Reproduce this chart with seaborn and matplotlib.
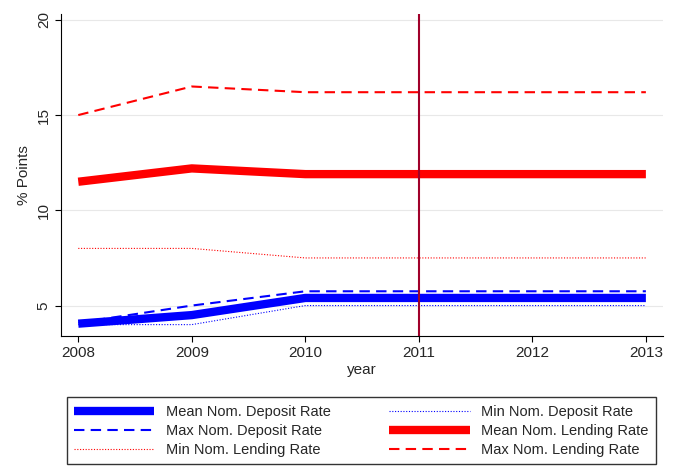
import pandas as pd
import matplotlib.pyplot as plt
import seaborn as sns

years = [2008, 2009, 2010, 2011, 2012, 2013]
mean_dep = [4.05, 4.5, 5.4, 5.4, 5.4, 5.4]
max_dep = [4.1, 5.0, 5.75, 5.75, 5.75, 5.75]
min_dep = [4.0, 4.0, 5.0, 5.0, 5.0, 5.0]
mean_lend = [11.5, 12.2, 11.9, 11.9, 11.9, 11.9]
max_lend = [15.0, 16.5, 16.2, 16.2, 16.2, 16.2]
min_lend = [8.0, 8.0, 7.5, 7.5, 7.5, 7.5]

series = {
    "Mean Nom. Deposit Rate": mean_dep,
    "Min Nom. Deposit Rate": min_dep,
    "Max Nom. Deposit Rate": max_dep,
    "Mean Nom. Lending Rate": mean_lend,
    "Min Nom. Lending Rate": min_lend,
    "Max Nom. Lending Rate": max_lend,
}
styles = {
    "Mean Nom. Deposit Rate": dict(color="#0000ff", lw=6, ls="-"),
    "Min Nom. Deposit Rate": dict(color="#0000ff", lw=0.8, ls=(0, (1, 1.5))),
    "Max Nom. Deposit Rate": dict(color="#0000ff", lw=1.5, ls=(0, (5, 3))),
    "Mean Nom. Lending Rate": dict(color="#ff0000", lw=6, ls="-"),
    "Min Nom. Lending Rate": dict(color="#ff0000", lw=0.8, ls=(0, (1, 1.5))),
    "Max Nom. Lending Rate": dict(color="#ff0000", lw=1.5, ls=(0, (5, 3))),
}

sns.set_style("white")
plt.rcParams["font.family"] = ["Liberation Sans", "DejaVu Sans"]

fig = plt.figure(figsize=(6.73, 4.70), dpi=100)
ax = fig.add_axes([0.091, 0.285, 0.894, 0.685])

for y in [5, 10, 15, 20]:
    ax.axhline(y, color="#e8e8e8", lw=0.8, zorder=0)

handles = {}
for name, vals in series.items():
    df = pd.DataFrame({"year": years, "v": vals})
    st = styles[name]
    sns.lineplot(data=df, x="year", y="v", ax=ax, color=st["color"],
                 linewidth=st["lw"], linestyle=st["ls"], label=name)
    ax.lines[-1].set_solid_capstyle("butt")
    handles[name] = ax.lines[-1]

ax.axvline(2011, color="#a0002a", lw=1.5)
ax.set_xlim(2007.85, 2013.15)
ax.set_ylim(3.4, 20.3)
ax.set_xticks(years)
ax.set_yticks([5, 10, 15, 20])
ax.set_yticklabels(["5", "10", "15", "20"], rotation=90, va="center")
ax.set_xlabel("year", fontsize=11, labelpad=2)
ax.set_ylabel("% Points", fontsize=11)
ax.tick_params(axis="both", labelsize=11, length=4, direction="out", color="black",
               bottom=True, left=True)
for side in ["top", "right"]:
    ax.spines[side].set_visible(False)
for side in ["left", "bottom"]:
    ax.spines[side].set_color("black")

# legend fills column-wise
order = ["Mean Nom. Deposit Rate", "Max Nom. Deposit Rate",
         "Min Nom. Lending Rate", "Min Nom. Deposit Rate",
         "Mean Nom. Lending Rate", "Max Nom. Lending Rate"]
ax.get_legend().remove()
fig.legend([handles[n] for n in order], order, ncol=2, loc="lower center",
           bbox_to_anchor=(0.537, 0.003), fontsize=10.5, frameon=True,
           fancybox=False, edgecolor="black", handlelength=5.5,
           columnspacing=4.0, labelspacing=0.35, borderpad=0.5,
           borderaxespad=0.3)

plt.savefig("out.png", dpi=100)
plt.close()
